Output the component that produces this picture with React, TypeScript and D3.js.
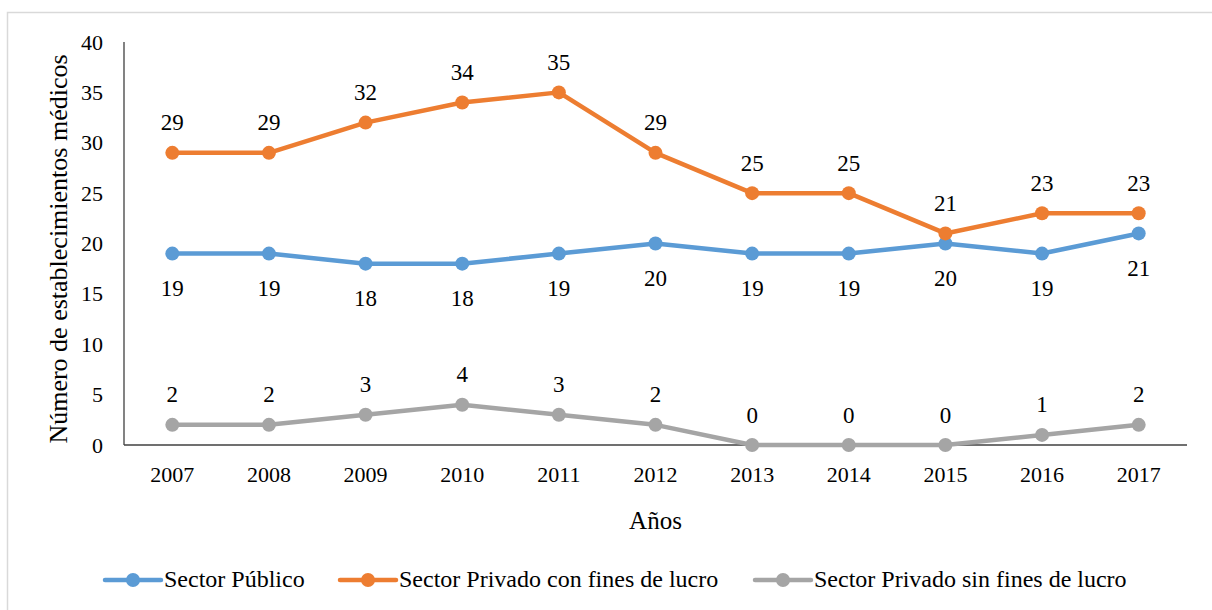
import React from 'react';
import { scaleBand, scaleLinear, line } from 'd3';

const years = ['2007', '2008', '2009', '2010', '2011', '2012', '2013', '2014', '2015', '2016', '2017'];
const sectorPublico = [19, 19, 18, 18, 19, 20, 19, 19, 20, 19, 21];
const privadoConLucro = [29, 29, 32, 34, 35, 29, 25, 25, 21, 23, 23];
const privadoSinLucro = [2, 2, 3, 4, 3, 2, 0, 0, 0, 1, 2];
const yTicks = [0, 5, 10, 15, 20, 25, 30, 35, 40];

const seriesList = [
  { name: 'Sector Público', values: sectorPublico, color: '#5B9BD5', labelBelow: true },
  { name: 'Sector Privado con fines de lucro', values: privadoConLucro, color: '#ED7D31', labelBelow: false },
  { name: 'Sector Privado sin fines de lucro', values: privadoSinLucro, color: '#A5A5A5', labelBelow: false }
];

const width = 1212;
const height = 610;
const plot = { left: 124, right: 1187, top: 42, bottom: 445 };
const font = '"Liberation Serif", "Times New Roman", serif';
// legend layout: start of line for each entry
const legendX = [105, 340, 755];
const legendY = 580;

export default function App() {
  const x = scaleBand<string>().domain(years).range([plot.left, plot.right]);
  const y = scaleLinear().domain([0, 40]).range([plot.bottom, plot.top]);
  const cx = (yr: string) => (x(yr) as number) + x.bandwidth() / 2;

  const path = line<number>()
    .x((d, i) => cx(years[i]))
    .y(d => y(d));

  return (
    <svg
      width={width}
      height={height}
      style={{ position: 'absolute', left: 0, top: 0, background: '#fff' }}
      fontFamily={font}
    >
      <rect x={7.5} y={12.5} width={1220} height={620} fill="#fff" stroke="#d9d9d9" strokeWidth={1.5} />

      {/* y ticks */}
      {yTicks.map(t => (
        <text key={t} x={103} y={y(t) + 7.5} textAnchor="end" fontSize={22} fill="#000">
          {t}
        </text>
      ))}
      {/* x ticks */}
      {years.map(yr => (
        <text key={yr} x={cx(yr)} y={482} textAnchor="middle" fontSize={22} fill="#000">
          {yr}
        </text>
      ))}

      <line x1={plot.left} x2={plot.left} y1={plot.top} y2={plot.bottom} stroke="#404040" strokeWidth={1.3} />
      <line x1={plot.left} x2={plot.right} y1={plot.bottom} y2={plot.bottom} stroke="#404040" strokeWidth={1.3} />

      {/* axis titles */}
      <text transform="translate(67,249) rotate(-90)" textAnchor="middle" fontSize={26} fill="#000">
        Número de establecimientos médicos
      </text>
      <text x={(plot.left + plot.right) / 2} y={529} textAnchor="middle" fontSize={25} fill="#000">
        Años
      </text>

      {/* series */}
      {seriesList.map(s => (
        <g key={s.name}>
          <path d={path(s.values) || ''} fill="none" stroke={s.color} strokeWidth={4.5} strokeLinejoin="round" />
          {s.values.map((v, i) => (
            <circle key={i} cx={cx(years[i])} cy={y(v)} r={7} fill={s.color} />
          ))}
        </g>
      ))}
      {seriesList.map(s => (
        <g key={s.name + '-labels'}>
          {s.values.map((v, i) => (
            <text
              key={i}
              x={cx(years[i])}
              y={y(v) + (s.labelBelow ? 35 : -30)}
              dominantBaseline="central"
              textAnchor="middle"
              fontSize={23}
              fill="#000"
            >
              {v}
            </text>
          ))}
        </g>
      ))}

      {/* legend */}
      {seriesList.map((s, i) => (
        <g key={s.name + '-legend'}>
          <line x1={legendX[i]} x2={legendX[i] + 56} y1={legendY} y2={legendY} stroke={s.color} strokeWidth={4.5} strokeLinecap="round" />
          <circle cx={legendX[i] + 28} cy={legendY} r={7} fill={s.color} />
          <text x={legendX[i] + 59} y={587} fontSize={24} fill="#000">
            {s.name}
          </text>
        </g>
      ))}
    </svg>
  );
}
